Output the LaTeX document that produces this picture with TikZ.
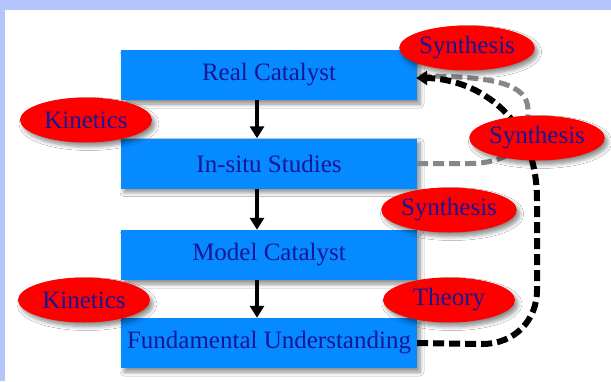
\documentclass[tikz,border=0pt]{standalone}
\usepackage{fontspec}
\setmainfont{Liberation Serif}
\usepackage{tikz}
\usetikzlibrary{arrows.meta,shapes.geometric,shadows.blur}
\definecolor{pagebg}{RGB}{179,197,250}
\definecolor{boxblue}{RGB}{5,138,255}
\definecolor{navy}{RGB}{22,22,150}
\definecolor{loopgray}{RGB}{135,135,135}
\tikzstyle{soft}=[blur shadow={shadow xshift=3pt,shadow yshift=-4pt,
  shadow blur radius=4pt,shadow blur steps=6,shadow opacity=45}]
\tikzstyle{stage}=[rectangle,fill=boxblue,soft,minimum width=296pt,
  minimum height=50pt,inner sep=0pt,text=navy,font=\fontsize{25}{29}\selectfont]
\tikzstyle{tag}=[ellipse,fill=red,soft,minimum width=132pt,
  minimum height=45pt,inner sep=0pt,text=navy,font=\fontsize{25}{29}\selectfont]

\begin{document}
\begin{tikzpicture}[x=1pt,y=-1pt]
\tikzset{flow/.style={line width=4pt,-{Triangle[width=14pt,length=12pt]}},
  loopline/.style={line width=6pt,dash pattern=on 11pt off 5pt}}
% page
\useasboundingbox (0,0) rectangle (611,381);
\fill[pagebg] (0,0) rectangle (611,381);
\fill[white] (5,10) rectangle (611,381);
% stages
\node[stage] (RC) at (269,75) {Real Catalyst};
\node[stage] (IS) at (269,163.5) {In-situ Studies};
\node[stage] (MC) at (269,255) {Model Catalyst};
\node[stage] (FU) at (269,343) {Fundamental Understanding};
\draw[flow] ([xshift=-12pt]RC.south) -- ([xshift=-12pt]IS.north);
\draw[flow] ([xshift=-12pt]IS.south) -- ([xshift=-12pt]MC.north);
\draw[flow] ([xshift=-12pt]MC.south) -- ([xshift=-12pt]FU.north);
% feedback loops
\coordinate (g1) at (470,163.5);
\coordinate (g2) at (528,110);
\coordinate (b1) at (482,344);
\coordinate (b2) at (537,290);
\coordinate (b3) at (537,200);
\draw[loopline,loopgray,line width=5pt] (IS.east) -- (g1)
  .. controls (505,163) and (528,150) .. (g2)
  .. controls (528,84) and (495,76) .. ([yshift=-1pt]RC.east);
\draw[loopline,black] (FU.east) -- (b1)
  .. controls (515,344) and (537,320) .. (b2) -- (b3)
  .. controls (537,110) and (470,78) .. ([xshift=8pt,yshift=-3pt]RC.east);
\draw[line width=4pt,-{Triangle[width=14pt,length=11pt]}]
  ([xshift=10pt,yshift=-3pt]RC.east) -- ([xshift=-1pt,yshift=-3pt]RC.east);
% labels
\node[tag] (syntop) at (467,48) {Synthesis};
\node[tag] (synmid) at (537,138) {Synthesis};
\node[tag] (synlow) at (449,210) {Synthesis};
\node[tag] (theory) at (449,300) {Theory};
\node[tag] (kintop) at (86,120) {Kinetics};
\node[tag] (kinlow) at (84,300) {Kinetics};
\end{tikzpicture}
\end{document}
